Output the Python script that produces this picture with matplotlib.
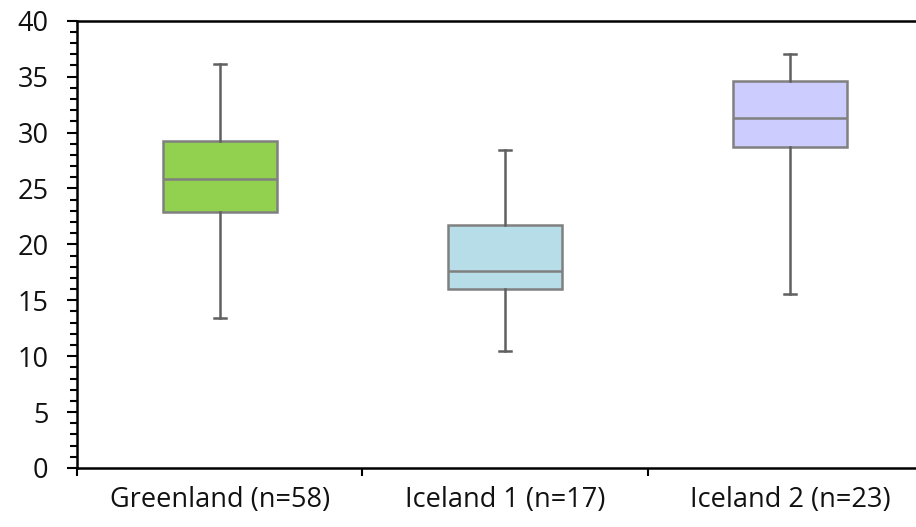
import matplotlib
matplotlib.use("Agg")
import matplotlib.pyplot as plt
from matplotlib.ticker import MultipleLocator, FixedLocator, NullFormatter

plt.rcParams['font.family'] = ['Open Sans', 'DejaVu Sans']

categories = ["Greenland (n=58)", "Iceland 1 (n=17)", "Iceland 2 (n=23)"]
whislo = [13.4, 10.5, 15.6]
q1 = [22.9, 16.0, 28.7]
med = [25.8, 17.6, 31.3]
q3 = [29.2, 21.7, 34.6]
whishi = [36.1, 28.4, 37.0]
colors = ["#92D050", "#B7DEE8", "#CCCCFF"]

fig = plt.figure(figsize=(9.16, 5.27), dpi=100)
ax = fig.add_axes([77/916, 59/527, (933-77)/916, (468-20.7)/527])

stats = []
for i, c in enumerate(categories):
    stats.append(dict(label=c, whislo=whislo[i], q1=q1[i], med=med[i],
                      q3=q3[i], whishi=whishi[i], fliers=[]))

positions = [i + 0.5 for i in range(len(categories))]
bp = ax.bxp(stats, positions=positions, widths=0.40, patch_artist=True,
            showfliers=False,
            boxprops=dict(edgecolor="#808080", linewidth=1.8),
            medianprops=dict(color="#808080", linewidth=1.8),
            whiskerprops=dict(color="#606060", linewidth=1.8),
            capprops=dict(color="#606060", linewidth=1.8),
            capwidths=0.042, manage_ticks=False)
for patch, col in zip(bp['boxes'], colors):
    patch.set_facecolor(col)

ax.set_xlim(0, 3)
ax.set_ylim(0, 40)
ax.yaxis.set_major_locator(MultipleLocator(5))
ax.yaxis.set_minor_locator(MultipleLocator(1))
ax.tick_params(axis='y', which='major', direction='out', length=7.5, width=1.5,
               labelsize=19.5, pad=13, labelcolor='#111111')
ax.tick_params(axis='y', which='minor', direction='out', length=5, width=1.5)

ax.xaxis.set_major_locator(FixedLocator([0, 1, 2, 3]))
ax.xaxis.set_major_formatter(NullFormatter())
ax.xaxis.set_minor_locator(FixedLocator(positions))
ax.set_xticklabels(categories, minor=True)
ax.tick_params(axis='x', which='major', direction='out', length=6, width=1.5)
ax.tick_params(axis='x', which='minor', length=0, labelsize=19.5, pad=13,
               labelcolor='#111111')

for s in ['left', 'bottom', 'top']:
    ax.spines[s].set_linewidth(1.8)
    ax.spines[s].set_color('black')
ax.spines['right'].set_visible(False)

fig.savefig("out.png", dpi=100)
